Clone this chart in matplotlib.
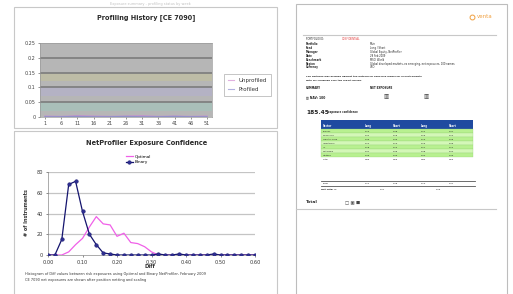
import numpy as np
import matplotlib.pyplot as plt
from matplotlib.patches import Rectangle
from matplotlib.lines import Line2D

W, H = 513, 294

# top chart: profiling history
weeks = ["1", "6", "11", "16", "21", "26", "31", "36", "41", "46", "51"]
unprofiled = [0.003, 0.002, 0.004, 0.003, 0.002, 0.003, 0.004, 0.002, 0.003, 0.002, 0.003]
profiled = [0.001, 0.001, 0.002, 0.001, 0.001, 0.002, 0.001, 0.001, 0.002, 0.001, 0.001]
band_edges = [0.0, 0.05, 0.10, 0.15]
band_colors = ["#a9bfb9", "#b4b2c4", "#bdbca6"]

# bottom chart: exposure confidence histogram
diff = [0.00, 0.02, 0.04, 0.06, 0.08, 0.10, 0.12, 0.14, 0.16, 0.18, 0.20,
        0.22, 0.24, 0.26, 0.28, 0.30, 0.32, 0.34, 0.36, 0.38, 0.40,
        0.42, 0.44, 0.46, 0.48, 0.50, 0.52, 0.54, 0.56, 0.58, 0.60]
optimal = [0, 0, 0, 3, 10, 16, 27, 37, 30, 29, 18,
           21, 12, 11, 8, 3, 0, 0, 0, 0, 0,
           0, 0, 0, 0, 0, 0, 0, 0, 0, 0]
binary = [0, 0, 15, 68, 71, 42, 20, 10, 2, 1, 0,
          0, 0, 0, 0, 0, 1, 0, 0, 1, 0,
          0, 0, 0, 1, 0, 0, 0, 0, 0, 0]
diff_ticks = [0.0, 0.1, 0.2, 0.3, 0.4, 0.5, 0.6]

# report table on the right page
table_header = ["Sector", "Long", "Short", "Long", "Short"]
table_rows = [["Energy", "0.12", "0.08", "0.11", "0.07"],
              ["Financials", "0.21", "0.15", "0.19", "0.14"],
              ["Health Care", "0.09", "0.06", "0.10", "0.05"],
              ["Industrials", "0.14", "0.10", "0.13", "0.09"],
              ["IT", "0.18", "0.12", "0.17", "0.11"],
              ["Materials", "0.07", "0.05", "0.08", "0.04"],
              ["Utilities", "0.05", "0.03", "0.04", "0.03"]]
table_total = ["Total", "0.86", "0.59", "0.82", "0.53"]


def px_axes(x0, y0, x1, y1, **kw):
    return fig.add_axes([x0 / W, 1 - y1 / H, (x1 - x0) / W, (y1 - y0) / H], **kw)


def px(x, y):
    return x / W, 1 - y / H


fig = plt.figure(figsize=(W / 100, H / 100), dpi=100)
fig.patch.set_facecolor("white")
canvas = px_axes(0, 0, W, H)
canvas.set_xlim(0, W)
canvas.set_ylim(H, 0)
canvas.axis("off")

# left page frames
canvas.add_patch(Rectangle((14, 7), 263, 121, fill=False, ec="#c8c8c8", lw=0.8))
canvas.add_patch(Rectangle((14, 131), 263, 170, fill=False, ec="#c8c8c8", lw=0.8))
canvas.text(150, 3.5, "Exposure summary - profiling status by week", fontsize=2.5,
            color="#c0c0c0", ha="center", va="center")

# ---- top chart ----
ax1 = px_axes(40, 43, 212, 117)
ax1.set_facecolor("#b6b6b6")
xs = np.arange(len(weeks))
for i in range(len(band_colors)):
    ax1.axhspan(band_edges[i] + 0.02, band_edges[i + 1], color=band_colors[i], lw=0, zorder=0)
for yv in [0.05, 0.10, 0.15, 0.20]:
    ax1.axhline(yv, color="#7c7c7c", lw=1.2, zorder=1)
ax1.plot(xs, unprofiled, color="#c48ad0", lw=0.8, zorder=3)
ax1.plot(xs, profiled, color="#8f8fc8", lw=0.8, zorder=3)
ax1.set_xlim(-0.3, len(weeks) - 0.7)
ax1.set_ylim(0, 0.25)
ax1.set_yticks([0, 0.05, 0.10, 0.15, 0.20, 0.25])
ax1.set_yticklabels(["0", "0.05", "0.1", "0.15", "0.2", "0.25"])
ax1.set_xticks(xs)
ax1.set_xticklabels(weeks)
ax1.tick_params(labelsize=3.5, length=1.5, width=0.4, pad=1.5, colors="#444444")
for s in ax1.spines.values():
    s.set_color("#9a9a9a")
    s.set_linewidth(0.5)
canvas.text(146, 18, "Profiling History [CE 7090]", fontsize=4.7, fontweight="bold",
            ha="center", va="center", color="#2a2a2a")
leg1 = ax1.legend([Line2D([], [], color="#e0b0e0", lw=0.8), Line2D([], [], color="#b0b0e0", lw=0.8)],
                  ["Unprofiled", "Profiled"], loc="center left", bbox_to_anchor=px(221, 85),
                  bbox_transform=fig.transFigure, fontsize=4, frameon=True, fancybox=False,
                  edgecolor="#9a9a9a", handlelength=1.2, handletextpad=0.8, borderpad=0.7,
                  labelspacing=0.6)
leg1.get_frame().set_linewidth(0.5)
for t in leg1.get_texts():
    t.set_color("#333333")

# ---- bottom chart ----
ax2 = px_axes(48, 172, 255, 255)
for yv in [20, 40, 60, 80]:
    ax2.axhline(yv, color="#c4c4c4", lw=0.9, zorder=0)
ax2.plot(diff, optimal, color="#f060e8", lw=0.9, zorder=2, label="Optimal")
ax2.plot(diff, binary, color="#14146e", lw=0.9, marker="o", ms=2.6, mfc="#2e2e90",
         mec="#14146e", mew=0.3, zorder=3, label="Binary")
ax2.set_xlim(0, 0.6)
ax2.set_ylim(0, 80)
ax2.set_xticks(diff_ticks)
ax2.set_xticklabels(["%.2f" % v for v in diff_ticks])
ax2.set_yticks([0, 20, 40, 60, 80])
ax2.tick_params(labelsize=3.6, length=1.5, width=0.4, pad=2, colors="#333333")
for side in ["top", "right"]:
    ax2.spines[side].set_visible(False)
for side in ["left", "bottom"]:
    ax2.spines[side].set_color("#8a8a8a")
    ax2.spines[side].set_linewidth(0.5)
canvas.text(147, 143, "NetProfiler Exposure Confidence", fontsize=4.8, fontweight="bold",
            ha="center", va="center", color="#2a2a2a")
leg2 = ax2.legend(loc="center left", bbox_to_anchor=px(124, 159.5), bbox_transform=fig.transFigure,
                  fontsize=3, frameon=False, handlelength=1.6, handletextpad=0.4,
                  labelspacing=0.3, borderpad=0)
canvas.text(26, 213, "# of Instruments", fontsize=3.5, fontweight="bold", rotation=90,
            ha="center", va="center", color="#333333")
canvas.text(150, 267, "Diff", fontsize=3.8, fontweight="bold", ha="center", va="center",
            color="#333333")
canvas.text(25, 274, "Histogram of Diff values between risk exposures using Optimal and Binary NetProfiler, February 2009",
            fontsize=2.5, ha="left", va="center", color="#333333")
canvas.text(25, 280.5, "CE 7090 net exposures are shown after position netting and scaling",
            fontsize=2.5, ha="left", va="center", color="#333333")

# ---- right page: report ----
canvas.add_patch(Rectangle((296, 4), 211, 300, fc="white", ec="#bdbdbd", lw=0.8))
canvas.plot([303, 496], [35, 35], color="#c8c8c8", lw=0.8)
canvas.plot(472, 17, marker="o", ms=3.5, mfc="none", mec="#f0a040", mew=0.7)
canvas.text(477, 17, "venta", fontsize=4, color="#f0a040", va="center")
canvas.text(306, 38.5, "PORTFOLIO ID:", fontsize=1.8, color="#222222", va="center")
canvas.text(342, 38.5, "CONFIDENTIAL", fontsize=1.8, color="#e03030", va="center")
left_labels = ["Portfolio", "Fund", "Manager", "Date", "Benchmark", "Region", "Currency"]
right_vals = ["Main", "Long / Short", "Global Equity, NetProfiler", "28 Feb 2009",
              "MSCI World", "Global developed markets, ex emerging, net exposures, 100 names", "USD"]
for i, (a, b) in enumerate(zip(left_labels, right_vals)):
    y = 44 + i * 3.9
    canvas.text(306, y, a, fontsize=1.8, fontweight="bold", color="#222222", va="center")
    canvas.text(370, y, b, fontsize=1.8, color="#222222", va="center")
canvas.text(306, 76.5, "The portfolio was profiled against the NetProfiler exposure model for all instruments",
            fontsize=1.7, fontweight="bold", color="#222222", va="center")
canvas.text(306, 80, "with full holdings over the report period.", fontsize=1.7, fontweight="bold",
            color="#222222", va="center")
canvas.text(306, 88, "SUMMARY", fontsize=1.9, fontweight="bold", color="#222222", va="center")
canvas.text(370, 88, "NET EXPOSURE", fontsize=1.9, fontweight="bold", color="#222222", va="center")
canvas.text(306, 97, "\u25a4 NAV: 100", fontsize=2.2, fontweight="bold", color="#222222", va="center")
canvas.text(384, 97, "\u25a5", fontsize=4, color="#333333", va="center")
canvas.text(423, 97, "\u25a5", fontsize=4, color="#333333", va="center")
canvas.text(306, 112, "185.45", fontsize=4.2, fontweight="bold", color="#222222", va="center")
canvas.text(328, 112.5, "exposure confidence", fontsize=1.8, fontweight="bold", color="#222222",
            va="center")

col_x = [323, 365, 393, 421, 449]
row_h = 4.0
top = 120
canvas.add_patch(Rectangle((321, top), 152, 9, fc="#1f4aa0", ec="none"))
for x, h in zip(col_x, table_header):
    canvas.text(x, top + 6, h, fontsize=1.8, color="white", fontweight="bold", va="center")
for r, row in enumerate(table_rows):
    y = top + 9 + r * row_h
    canvas.add_patch(Rectangle((321, y), 152, row_h, fc="#b8f090" if r % 2 == 0 else "#d4f7b8",
                               ec="#90d070", lw=0.2))
    for x, v in zip(col_x, row):
        canvas.text(x, y + row_h / 2, v, fontsize=1.7, color="#222222", va="center")
y = top + 9 + len(table_rows) * row_h
for x, v in zip(col_x, table_total):
    canvas.text(x, y + 2, v, fontsize=1.7, color="#222222", va="center")

canvas.plot([321, 475], [181, 181], color="#555555", lw=0.6)
canvas.plot([321, 475], [186, 186], color="#555555", lw=0.6)
for x, v in zip(col_x, ["Long", "0.11", "0.08", "0.10", "0.07"]):
    canvas.text(x, 183.5, v, fontsize=1.7, color="#222222", va="center")
canvas.text(321, 189.5, "Net Total %", fontsize=1.7, fontweight="bold", color="#222222", va="center")
canvas.text(380, 189.5, "0.27", fontsize=1.7, color="#222222", va="center")
canvas.text(436, 189.5, "0.29", fontsize=1.7, color="#222222", va="center")
canvas.text(306, 202, "Total", fontsize=3.2, fontweight="bold", color="#333333", va="center")
canvas.text(345, 202, "\u25a1 \u25a3 \u25a0", fontsize=3.2, color="#444444", va="center")
canvas.plot([296, 496], [209, 209], color="#c8c8c8", lw=0.8)

fig.savefig("out.png", dpi=100)
